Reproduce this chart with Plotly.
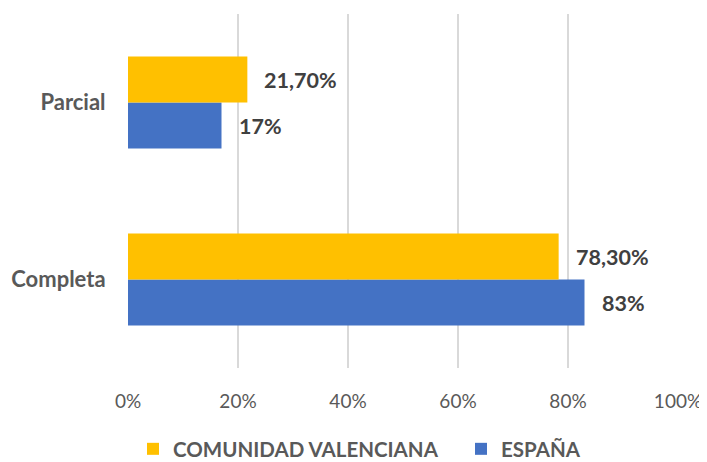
import plotly.graph_objects as go

categories = ["Completa", "Parcial"]
espana = [0.83, 0.17]
espana_labels = ["83%", "17%"]
valenciana = [0.783, 0.217]
valenciana_labels = ["78,30%", "21,70%"]
x_ticks = [0, 0.2, 0.4, 0.6, 0.8, 1.0]
x_tick_labels = ["0%", "20%", "40%", "60%", "80%", "100%"]

FONT = "Lato"
GRAY = "#595959"
DARK = "#404040"
BLUE = "#4472C4"
GOLD = "#FFC000"

# the page body has an 8px margin, so everything is laid out 8px up/left
W, H = 707, 462

fig = go.Figure()
fig.add_trace(go.Bar(y=categories, x=espana, orientation="h", name="ESPAÑA",
                     legend="legend2",
                     marker=dict(color=BLUE, line=dict(width=0))))
fig.add_trace(go.Bar(y=categories, x=valenciana, orientation="h", name="COMUNIDAD VALENCIANA",
                     legend="legend",
                     marker=dict(color=GOLD, line=dict(width=0))))

# value labels
for cat, v, lab in zip(categories, espana, espana_labels):
    fig.add_annotation(x=v, y=cat, text=lab, xanchor="left", yanchor="middle",
                       xshift=15, yshift=-23, showarrow=False,
                       font=dict(family=FONT, size=21.5, color=DARK, weight="bold"))
for cat, v, lab in zip(categories, valenciana, valenciana_labels):
    fig.add_annotation(x=v, y=cat, text=lab, xanchor="left", yanchor="middle",
                       xshift=15, yshift=23, showarrow=False,
                       font=dict(family=FONT, size=21.5, color=DARK, weight="bold"))

legend_font = dict(family=FONT, size=20.5, color=GRAY, weight="bold")
legend_y = (H - 441) / H

fig.update_layout(
    width=W, height=H,
    margin=dict(l=120, r=37, t=6, b=102, autoexpand=False),
    paper_bgcolor="white", plot_bgcolor="white",
    barmode="group", bargap=0.48, bargroupgap=0,
    font=dict(family=FONT, color=GRAY),
    showlegend=True,
    legend=dict(orientation="h", x=125 / W, xref="container", xanchor="left",
                y=legend_y, yref="container", yanchor="middle", font=legend_font),
    legend2=dict(orientation="h", x=453 / W, xref="container", xanchor="left",
                 y=legend_y, yref="container", yanchor="middle", font=legend_font),
    xaxis=dict(range=[0, 1.0], tickvals=x_ticks, ticktext=x_tick_labels,
               showgrid=True, gridcolor="#D9D9D9", gridwidth=1.5,
               zeroline=False, showline=False, automargin=False,
               ticks="outside", ticklen=16, tickcolor="rgba(0,0,0,0)",
               tickfont=dict(family=FONT, size=19, color=GRAY)),
    yaxis=dict(range=[-0.5, 1.5], showgrid=False, zeroline=False, showline=False,
               automargin=False,
               ticks="outside", ticklen=17, tickcolor="rgba(0,0,0,0)",
               tickfont=dict(family=FONT, size=22, color=GRAY, weight="bold")),
)

fig.write_html("out.html")
